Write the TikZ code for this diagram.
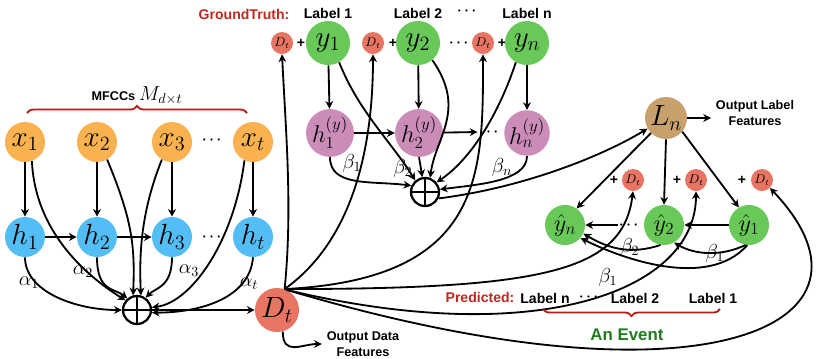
\documentclass[tikz,border=0pt]{standalone}
\usepackage{amsmath}
\usepackage{fontspec}
\setsansfont{Liberation Sans}
\usetikzlibrary{arrows.meta,decorations.pathreplacing}
\definecolor{xorange}{RGB}{250,178,80}
\definecolor{hblue}{RGB}{82,190,245}
\definecolor{ygreen}{RGB}{104,200,88}
\definecolor{hpink}{RGB}{204,140,184}
\definecolor{dtred}{RGB}{232,116,100}
\definecolor{lbrown}{RGB}{200,160,108}
\definecolor{bracered}{RGB}{180,30,20}
\definecolor{titlered}{RGB}{190,40,30}
\definecolor{eventgreen}{RGB}{30,125,30}
\newcommand{\threedots}{{\boldmath$\cdots$}}

\begin{document}
\begin{tikzpicture}[
        x=0.025cm, y=-0.025cm,
        font=\sffamily,
        unit/.style={circle, fill=#1, inner sep=0pt, minimum size=1cm, font=\huge},
        bigunit/.style={unit=#1, minimum size=1.1cm},
        dtsmall/.style={circle, fill=dtred, inner sep=0pt, minimum size=0.55cm, font=\small},
        sumnode/.style={circle, draw, line width=1.6pt, minimum size=0.7cm, inner sep=0pt,
            path picture={\draw[line width=1.6pt] (path picture bounding box.north) -- (path picture bounding box.south)
                (path picture bounding box.west) -- (path picture bounding box.east);}},
        lbl/.style={font=\sffamily\bfseries},
        lblsmall/.style={font=\sffamily\bfseries\small, align=center},
        wlabel/.style={font=\Large},
        dotsnode/.style={font=\normalsize, inner sep=1pt},
        arrow/.style={-{Stealth[length=5.5pt,width=5.5pt]}, line width=1.3pt},
        brace/.style={decorate, decoration={brace, amplitude=5pt}, line width=1.3pt, draw=bracered}
    ]
        \useasboundingbox (0,0) rectangle (822,358);

        % MFCC inputs and hidden states
        \node[unit=xorange] (x1) at (25,142) {$x_1$};
        \node[unit=xorange] (x2) at (97,142) {$x_2$};
        \node[unit=xorange] (x3) at (172,142) {$x_3$};
        \node[dotsnode] (xdots) at (213,140) {\threedots};
        \node[unit=xorange] (xt) at (253,142) {$x_t$};
        \node[unit=hblue] (h1) at (25,237) {$h_1$};
        \node[unit=hblue] (h2) at (97,237) {$h_2$};
        \node[unit=hblue] (h3) at (172,237) {$h_3$};
        \node[dotsnode] (hdots) at (213,237) {\threedots};
        \node[unit=hblue] (ht) at (253,237) {$h_t$};
        \node[sumnode] (sumx) at (137,310) {};
        \node[bigunit=dtred] (Dt) at (277,310) {$D_t$};

        \draw[brace] (27,113) -- (247,113);
        \node (mfcc) at (137,96) {\textbf{\small MFCCs} {\Large$M_{d\times t}$}};

        \foreach \i in {1,2,3,t} {
            \draw[arrow] (x\i) -- (h\i);
        }
        \draw[arrow] (h1) -- (h2);
        \draw[arrow] (h2) -- (h3);

        \draw[arrow] (x1.-70) .. controls +(3,70) and +(-40,-25) .. (sumx.140);
        \draw[arrow] (h1.south) .. controls +(0,35) and +(-45,0) .. (sumx.west);
        \draw[arrow] (x2.-60) .. controls +(25,60) and +(2,-50) .. (sumx.105);
        \draw[arrow] (h2.south) .. controls +(0,35) and +(-12,-10) .. (sumx.130);
        \draw[arrow] (x3.-120) .. controls +(-20,50) and +(-2,-45) .. (sumx.75);
        \draw[arrow] (h3.south) .. controls +(0,30) and +(10,-10) .. (sumx.55);
        \draw[arrow] (xt.-115) .. controls +(-10,80) and +(40,-5) .. (sumx.10);
        \draw[arrow] (ht.south) .. controls +(-3,40) and +(50,0) .. (sumx.-10);
        \draw[arrow] (sumx) -- (Dt);

        \node[wlabel] (a1) at (29,283) {$\alpha_1$};
        \node[wlabel] (a2) at (83,272) {$\alpha_2$};
        \node[wlabel] (a3) at (189,271) {$\alpha_3$};
        \node[wlabel] (at) at (249,284) {$\alpha_t$};

        % output data features
        \node[lblsmall] (outD) at (363,344) {Output Data\\Features};
        \draw[arrow] (Dt.-75) .. controls +(0,25) and +(-20,0) .. (outD.west);

        % ground truth labels
        \node[lbl, text=titlered] (gt) at (244,14) {GroundTruth:};
        \node[lbl] (lab1) at (328,13) {Label 1};
        \node[lbl] (lab2) at (418,13) {Label 2};
        \node[dotsnode] (labdots) at (468,11) {\threedots};
        \node[lbl] (labn) at (527,13) {Label n};

        \node[dtsmall] (Dty1) at (282,43) {$D_t$};
        \node[lbl] (py1) at (301,43) {+};
        \node[bigunit=ygreen] (y1) at (328,43) {$y_1$};
        \node[dtsmall] (Dty2) at (373,43) {$D_t$};
        \node[lbl] (py2) at (393,43) {+};
        \node[bigunit=ygreen] (y2) at (418,43) {$y_2$};
        \node[dotsnode] (ydots) at (460,43) {\threedots};
        \node[dtsmall] (Dtyn) at (483,43) {$D_t$};
        \node[lbl] (pyn) at (502,43) {+};
        \node[bigunit=ygreen] (yn) at (527,43) {$y_n$};

        \node[bigunit=hpink, font=\LARGE] (hy1) at (330,133) {$h_1^{(y)}$};
        \node[bigunit=hpink, font=\LARGE] (hy2) at (419,133) {$h_2^{(y)}$};
        \node[dotsnode] (hydots) at (490,132) {\threedots};
        \node[bigunit=hpink, font=\LARGE] (hyn) at (527,133) {$h_n^{(y)}$};
        \node[sumnode] (sumy) at (425,192) {};

        \draw[arrow] (y1) -- (hy1);
        \draw[arrow] (y2) -- (hy2);
        \draw[arrow] (yn) -- (hyn);
        \draw[arrow] (hy1) -- (hy2);
        \draw[arrow] (hy2) -- (hydots.west);

        \draw[arrow] (hy1.south) .. controls +(0,30) and +(-40,-5) .. (sumy.155);
        \draw[arrow] (y1.-60) .. controls +(20,50) and +(-25,-40) .. (sumy.130);
        \draw[arrow] (hy2.south) -- (sumy.100);
        \draw[arrow] (y2.-50) .. controls +(35,50) and +(5,-40) .. (sumy.70);
        \draw[arrow] (yn.-120) .. controls +(-20,60) and +(30,-20) .. (sumy.40);
        \draw[arrow] (hyn.south) .. controls +(0,25) and +(40,-5) .. (sumy.10);

        \node[wlabel] (b1) at (352,163) {$\beta_1$};
        \node[wlabel] (b2) at (403,168) {$\beta_2$};
        \node[wlabel] (bn) at (502,167) {$\beta_n$};

        % data feature fed to every label
        \draw[arrow] (Dt.70) .. controls +(8,-80) and +(4,80) .. (Dty1.south);
        \draw[arrow] (Dt.70) .. controls +(70,-50) and +(0,90) .. (Dty2.south);
        \draw[arrow] (Dt.70) .. controls +(200,-10) and +(0,120) .. (Dtyn.south);

        % label features and predictions
        \node[bigunit=lbrown, minimum size=1.05cm] (Ln) at (666,118) {$L_n$};
        \node[lblsmall] (outL) at (755,113) {Output Label\\Features};
        \draw[arrow] (sumy.-25) .. controls +(80,-10) and +(-50,30) .. (Ln.210);
        \draw[arrow] (Ln.east) -- (outL.west |- Ln.east);

        \node[dtsmall] (Dthn) at (633,180) {$D_t$};
        \node[lbl] (phn) at (614,180) {+};
        \node[dtsmall] (Dth2) at (696,180) {$D_t$};
        \node[lbl] (ph2) at (677,180) {+};
        \node[dtsmall] (Dth1) at (762,180) {$D_t$};
        \node[lbl] (ph1) at (742,180) {+};

        \node[unit=ygreen, font=\LARGE] (yhn) at (565,225) {$\hat{y}_n$};
        \node[dotsnode] (yhdots) at (630,225) {\threedots};
        \node[unit=ygreen, font=\LARGE] (yh2) at (664,225) {$\hat{y}_2$};
        \node[unit=ygreen, font=\LARGE] (yh1) at (749,225) {$\hat{y}_1$};

        \draw[arrow] (Ln.225) -- (yhn.55);
        \draw[arrow] (Ln.south) -- (yh2.north);
        \draw[arrow] (Ln.-40) -- (yh1.120);
        \draw[arrow] (yh1) -- (yh2);
        \draw[arrow] (yhdots) -- (yhn);

        \draw[arrow] (yh2.-100) .. controls +(-30,10) and +(25,15) .. (yhn.-25);
        \draw[arrow] (yh1.-100) .. controls +(-25,12) and +(20,12) .. (yh2.-60);
        \draw[arrow] (yh1.-95) .. controls +(-40,45) and +(40,20) .. (yhn.-40);

        \node[wlabel] (bh2) at (630,247) {$\beta_2$};
        \node[wlabel] (bh1) at (715,253) {$\beta_1$};
        \node[wlabel] (bh1n) at (608,277) {$\beta_1$};

        \draw[arrow] (Dt.70) .. controls +(260,0) and +(-10,80) .. (Dthn.south);
        \draw[arrow] (Dt.65) .. controls +(250,60) and +(0,100) .. (Dth2.south);
        \draw[arrow] (Dt.65) .. controls (706,415) and (900,325) .. (Dth1.-45);

        % predicted event
        \node[lbl, text=titlered] (pred) at (480,297) {Predicted:};
        \node[lbl] (pl1) at (545,298) {Label n};
        \node[dotsnode] (pldots) at (590,297) {\threedots};
        \node[lbl] (pl2) at (635,298) {Label 2};
        \node[lbl] (pl3) at (713,298) {Label 1};
        \draw[brace, decoration={mirror}] (543,309) -- (720,309);
        \node[lbl, text=eventgreen, font=\sffamily\bfseries\large] (event) at (627,335) {An Event};
    \end{tikzpicture}
\end{document}
